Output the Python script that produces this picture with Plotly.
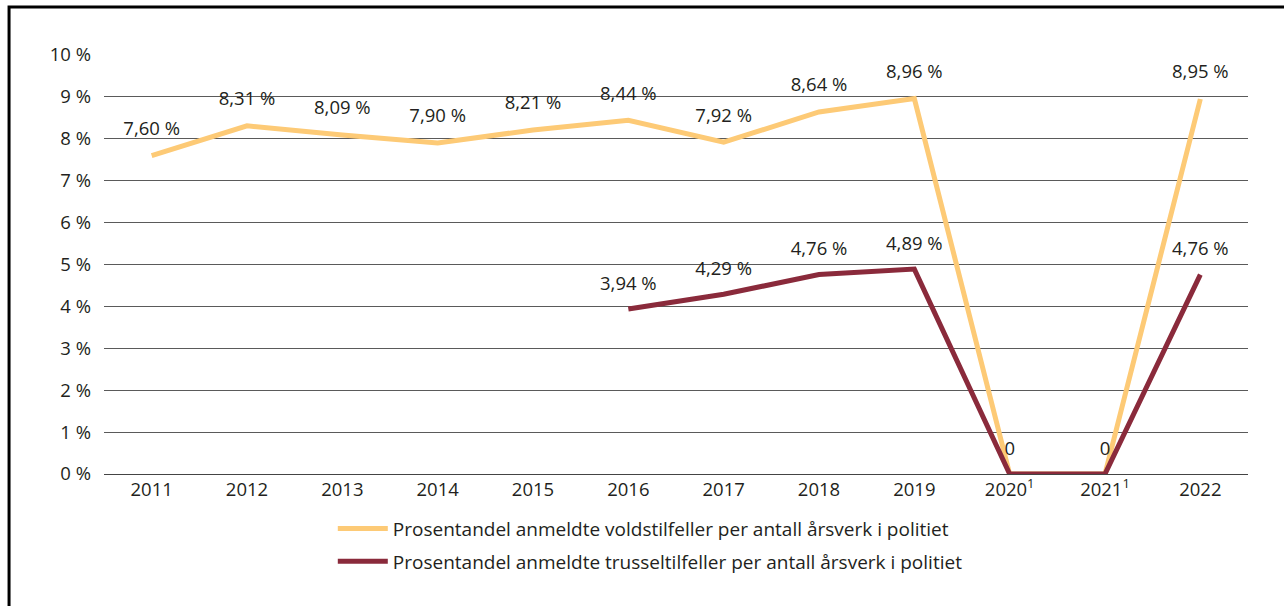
import plotly.graph_objects as go

years = ["2011", "2012", "2013", "2014", "2015", "2016", "2017", "2018", "2019",
         "2020<sup>1</sup>", "2021<sup>1</sup>", "2022"]
vold = [7.60, 8.31, 8.09, 7.90, 8.21, 8.44, 7.92, 8.64, 8.96, 0, 0, 8.95]
trussel = [None, None, None, None, None, 3.94, 4.29, 4.76, 4.89, 0, 0, 4.76]

name_vold = "Prosentandel anmeldte voldstilfeller per antall årsverk i politiet"
name_trussel = "Prosentandel anmeldte trusseltilfeller per antall årsverk i politiet"


def lab(v):
    if v is None:
        return ""
    if v == 0:
        return "0"
    return f"{v:.2f}".replace(".", ",") + " %"


font = "Open Sans, Noto Sans, sans-serif"
txt_col = "#231f20"

fig = go.Figure()
fig.add_trace(go.Scatter(
    x=years, y=vold, name=name_vold, mode="lines+markers+text",
    legendgroup="a",
    line=dict(color="#fdca76", width=5),
    marker=dict(size=24, color="rgba(0,0,0,0)"),
    text=[lab(v) if v != 0 else "" for v in vold],
    textposition="top center",
    textfont=dict(size=18.5, color=txt_col),
))
fig.add_trace(go.Scatter(
    x=years, y=trussel, name=name_trussel, mode="lines+markers+text",
    legendgroup="b",
    line=dict(color="#8a2a3b", width=5),
    marker=dict(size=22, color="rgba(0,0,0,0)"),
    text=[lab(v) for v in trussel],
    textposition="top center",
    textfont=dict(size=18.5, color=txt_col),
))

fig.update_layout(
    width=1284, height=606,
    margin=dict(l=104, r=36, t=55, b=132),
    paper_bgcolor="white", plot_bgcolor="white",
    font=dict(family=font, size=18.5, color=txt_col),
    showlegend=True,
    legend=dict(x=0.2, y=-0.085, xanchor="left", yanchor="top",
                orientation="v", font=dict(size=19), tracegroupgap=5,
                itemwidth=50),
    xaxis=dict(range=[-0.5, 11.5], showgrid=False, showline=False,
               zeroline=False, ticks="", ticklabelstandoff=2,
               automargin=False),
    yaxis=dict(range=[0, 10], dtick=1, ticksuffix=" %",
               showgrid=True, gridcolor="#5a5a5a", gridwidth=1,
               zeroline=True, zerolinecolor="#444444", zerolinewidth=1,
               showline=False, ticks="", ticklabelstandoff=12,
               automargin=False),
)

fig.add_shape(type="rect", xref="paper", yref="paper",
              x0=-0.083, x1=1.2, y0=-0.6, y1=1.1146,
              line=dict(color="black", width=3), layer="below")

fig.write_html("out.html", config={"displayModeBar": False},
               post_script="document.body.style.margin='0';")
